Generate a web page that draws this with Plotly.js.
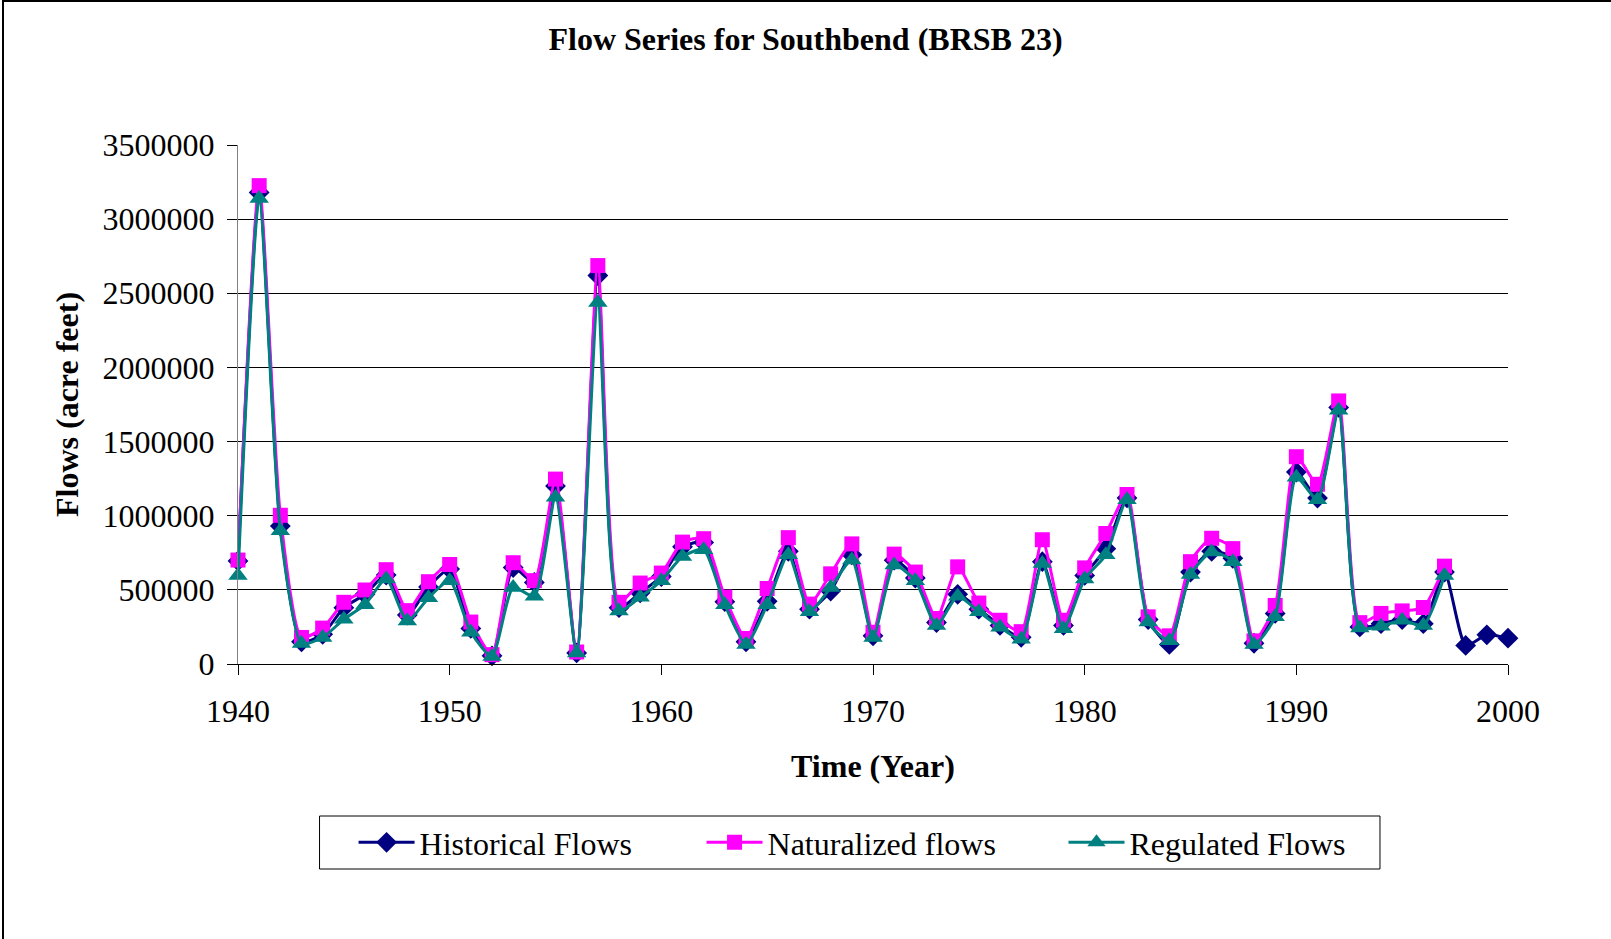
<!DOCTYPE html>
<html>
<head>
<meta charset="utf-8">
<script src="https://cdn.plot.ly/plotly-3.0.1.min.js"></script>
<style>
  html, body { margin: 0; padding: 0; background: #fff; }
  #chart { width: 1611px; height: 939px; position: absolute; left: 0; top: 0; }
  #frame { position: absolute; left: 2px; top: 0; width: 1609px; height: 939px;
           border-left: 2px solid #000; border-top: 2px solid #000; box-sizing: border-box; pointer-events: none; }
</style>
</head>
<body>
<div id="chart"></div>
<div id="frame"></div>
<script>
// ---- data ----
const yearsHist = [1940,1941,1942,1943,1944,1945,1946,1947,1948,1949,
                   1950,1951,1952,1953,1954,1955,1956,1957,1958,1959,
                   1960,1961,1962,1963,1964,1965,1966,1967,1968,1969,
                   1970,1971,1972,1973,1974,1975,1976,1977,1978,1979,
                   1980,1981,1982,1983,1984,1985,1986,1987,1988,1989,
                   1990,1991,1992,1993,1994,1995,1996,1997,1998,1999,2000];
const yearsSim = [1940,1941,1942,1943,1944,1945,1946,1947,1948,1949,
                  1950,1951,1952,1953,1954,1955,1956,1957,1958,1959,
                  1960,1961,1962,1963,1964,1965,1966,1967,1968,1969,
                  1970,1971,1972,1973,1974,1975,1976,1977,1978,1979,
                  1980,1981,1982,1983,1984,1985,1986,1987,1988,1989,
                  1990,1991,1992,1993,1994,1995,1996,1997];

const historicalFlows = [695000,3180000,930000,150000,200000,380000,470000,600000,330000,520000,
                         640000,240000,55000,650000,550000,1200000,75000,2620000,380000,480000,
                         590000,790000,820000,420000,150000,423000,760000,370000,492000,736000,
                         190000,700000,580000,280000,470000,370000,260000,180000,690000,260000,
                         597000,778000,1120000,300000,132000,620000,760000,713000,140000,341000,
                         1294000,1119000,1730000,250000,272000,300000,272000,620000,125000,197000,174000];

const naturalizedFlows = [701000,3226000,1003000,179000,242000,416000,499000,636000,360000,555000,
                          671000,283000,63000,683000,562000,1247000,81000,2687000,416000,546000,
                          613000,822000,845000,451000,172000,509000,852000,404000,608000,810000,
                          214000,741000,620000,307000,655000,411000,295000,218000,838000,295000,
                          648000,880000,1143000,318000,190000,690000,848000,778000,156000,395000,
                          1398000,1212000,1774000,279000,341000,358000,381000,660000];

const regulatedFlows = [597000,3140000,899000,139000,179000,302000,400000,574000,290000,446000,
                        562000,214000,51000,516000,457000,1124000,74000,2438000,358000,450000,
                        562000,725000,771000,400000,132000,400000,736000,353000,516000,701000,
                        179000,667000,562000,260000,457000,353000,248000,167000,678000,237000,
                        574000,736000,1108000,283000,156000,604000,755000,690000,132000,318000,
                        1259000,1108000,1712000,242000,255000,295000,260000,597000];

const seriesNames = ['Historical Flows', 'Naturalized flows', 'Regulated Flows'];
const chartTitle = 'Flow Series for Southbend (BRSB 23)';
const xTitle = 'Time (Year)';
const yTitle = 'Flows (acre feet)';

// ---- styling ----
const FONT = '"Liberation Serif", "Times New Roman", Times, serif';
const navy = '#000080', magenta = '#FF00FF', teal = '#008080';

const traces = [
  { x: yearsHist, y: historicalFlows, name: seriesNames[0], type: 'scatter', mode: 'lines+markers',
    cliponaxis: false,
    line: { color: navy, width: 3, shape: 'spline', smoothing: 0.6 },
    marker: { symbol: 'diamond', size: 16, color: navy }, legend: 'legend' },
  { x: yearsSim, y: naturalizedFlows, name: seriesNames[1], type: 'scatter', mode: 'lines+markers',
    cliponaxis: false,
    line: { color: magenta, width: 3, shape: 'spline', smoothing: 0.6 },
    marker: { symbol: 'square', size: 15, color: magenta }, legend: 'legend2' },
  { x: yearsSim, y: regulatedFlows, name: seriesNames[2], type: 'scatter', mode: 'lines+markers',
    cliponaxis: false,
    line: { color: teal, width: 3, shape: 'spline', smoothing: 0.6 },
    marker: { symbol: 'triangle-up', size: 17, color: teal }, legend: 'legend3' }
];

const legendBase = {
  orientation: 'h', xanchor: 'left', yanchor: 'middle', y: -0.344,
  bgcolor: 'rgba(0,0,0,0)', borderwidth: 0, itemwidth: 56,
  font: { family: FONT, size: 32, color: '#000' }, itemclick: false
};

const layout = {
  width: 1611, height: 939,
  paper_bgcolor: '#fff', plot_bgcolor: '#fff',
  margin: { l: 238, r: 103, t: 145, b: 275 },
  font: { family: FONT, color: '#000' },
  title: { text: chartTitle, x: 0.5, xref: 'container', y: 1 - 39/939, yref: 'container', yanchor: 'middle',
           font: { family: FONT, size: 32, weight: 'bold', color: '#000' } },
  xaxis: {
    range: [1940, 2000], tick0: 1940, dtick: 10, showgrid: false, zeroline: false,
    showline: true, linecolor: '#000', linewidth: 1,
    ticks: 'outside', ticklen: 10, tickcolor: '#000', tickwidth: 1, ticklabelstandoff: 9,
    tickfont: { family: FONT, size: 32, color: '#000' },
    title: { text: xTitle, standoff: 26, font: { family: FONT, size: 32, weight: 'bold', color: '#000' } }
  },
  yaxis: {
    range: [0, 3500000], tick0: 0, dtick: 500000, tickformat: 'd', exponentformat: 'none',
    showgrid: true, gridcolor: '#000', gridwidth: 1, zeroline: false,
    showline: true, linecolor: '#808080', linewidth: 1,
    ticks: 'outside', ticklen: 10, tickcolor: '#000', tickwidth: 1, ticklabelstandoff: 6,
    tickfont: { family: FONT, size: 32, color: '#000' },
    title: { text: yTitle, standoff: 14, font: { family: FONT, size: 32, weight: 'bold', color: '#000' } }
  },
  legend:  Object.assign({}, legendBase, { x: 0.091 }),
  legend2: Object.assign({}, legendBase, { x: 0.365 }),
  legend3: Object.assign({}, legendBase, { x: 0.650 }),
  shapes: [
    { type: 'rect', xref: 'paper', yref: 'paper', x0: 0.0642, x1: 0.8992, y0: -0.395, y1: -0.2929,
      line: { color: '#000', width: 1 }, fillcolor: 'rgba(0,0,0,0)', layer: 'below' }
  ],
  showlegend: true
};

Plotly.newPlot('chart', traces, layout, { staticPlot: true, displayModeBar: false });
</script>
</body>
</html>
